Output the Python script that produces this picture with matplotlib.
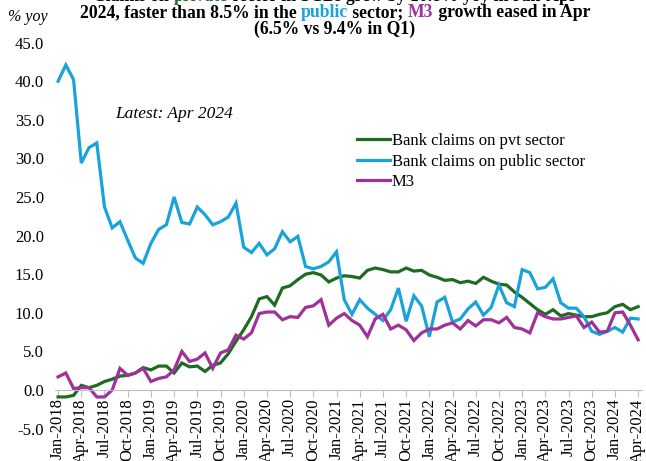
# Bank claims on private / public sector and M3, % yoy
import matplotlib
matplotlib.use('Agg')
import matplotlib.pyplot as plt
import numpy as np
import pandas as pd

plt.rcParams['font.family'] = ['Liberation Serif', 'DejaVu Serif']

# monthly data, Jan-2018 .. Apr-2024
months = pd.date_range('2018-01-01', '2024-04-01', freq='MS')

pvt = [-0.9, -0.9, -0.7, 0.6, 0.3, 0.6, 1.1, 1.4, 1.8, 1.9, 2.2, 2.9,
       2.6, 3.1, 3.1, 2.2, 3.5, 3.0, 3.1, 2.4, 3.2, 3.5, 4.7, 6.3,
       7.8, 9.5, 11.8, 12.1, 11.0, 13.2, 13.5, 14.3, 15.0, 15.2, 14.9, 14.0,
       14.5, 14.8, 14.7, 14.5, 15.5, 15.8, 15.6, 15.3, 15.3, 15.8, 15.4, 15.5,
       14.9, 14.6, 14.2, 14.3, 13.9, 14.1, 13.8, 14.6, 14.1, 13.7, 13.6, 12.7,
       12.0, 11.2, 10.4, 9.8, 10.4, 9.6, 9.9, 9.7, 9.5, 9.5, 9.8, 10.0,
       10.8, 11.1, 10.4, 10.8]

public = [40.0, 42.1, 40.2, 29.4, 31.4, 32.0, 23.7, 21.0, 21.8, 19.4, 17.1, 16.4,
          19.0, 20.8, 21.4, 25.0, 21.7, 21.5, 23.7, 22.7, 21.4, 21.8, 22.4, 24.2,
          18.5, 17.8, 19.0, 17.5, 18.3, 20.5, 19.2, 19.9, 16.0, 15.7, 16.0, 16.6,
          17.9, 11.7, 9.8, 11.7, 10.6, 9.8, 9.0, 10.4, 13.2, 8.9, 12.2, 10.9,
          6.9, 11.4, 12.0, 8.8, 9.2, 10.5, 11.4, 9.7, 10.7, 13.6, 11.3, 10.8,
          15.6, 15.2, 13.1, 13.3, 14.4, 11.3, 10.6, 10.6, 9.5, 7.6, 7.2, 7.6,
          8.1, 7.5, 9.3, 9.2]

m3 = [1.7, 2.2, 0.2, 0.3, 0.3, -0.9, -0.9, 0.0, 2.8, 1.9, 2.2, 2.8,
      1.1, 1.5, 1.7, 2.6, 5.0, 3.7, 4.0, 4.8, 2.8, 4.8, 5.2, 7.1,
      6.6, 7.4, 9.9, 10.1, 10.1, 9.1, 9.5, 9.4, 10.7, 10.9, 11.7, 8.4,
      9.3, 9.9, 9.0, 8.4, 6.9, 9.2, 9.8, 7.9, 8.4, 7.8, 6.4, 7.4,
      7.9, 7.9, 8.4, 8.7, 7.9, 9.0, 8.3, 9.1, 9.1, 8.7, 9.4, 8.1,
      7.9, 7.4, 10.0, 9.5, 9.2, 9.2, 9.4, 9.6, 8.1, 8.8, 7.5, 7.6,
      10.0, 10.1, 8.4, 6.5]

labels = ['Bank claims on pvt sector', 'Bank claims on public sector', 'M3']
colors = ['#1E6B22', '#1AA3DB', '#A0309A']

x = np.arange(len(months))

fig = plt.figure(figsize=(6.46, 4.61), dpi=100)
ax = fig.add_axes([55 / 646, 1 - 428.6 / 461, (642 - 55) / 646, (428.6 - 42.6) / 461])

for s, lab, c in zip([pvt, public, m3], labels, colors):
    ax.plot(x, s, color=c, lw=2.3, label=lab, solid_joinstyle='miter')

ax.set_xlim(-0.4, 75.5)
ax.set_ylim(-5, 45)
ax.set_yticks(np.arange(-5, 46, 5))
ax.set_yticklabels(['%.1f' % v for v in np.arange(-5, 46, 5)], fontsize=12)

# x axis crosses at 0
for sp in ['top', 'right', 'left']:
    ax.spines[sp].set_visible(False)
ax.spines['bottom'].set_position(('data', 0))
ax.spines['bottom'].set_color('#BFBFBF')
ax.tick_params(axis='y', length=0, pad=8)
tick_pos = x[::3]
ax.set_xticks(tick_pos)
ax.set_xticklabels(months[::3].strftime('%b-%Y'), rotation=90, fontsize=12)
ax.tick_params(axis='x', length=5, color='#BFBFBF', pad=1)

ax.legend(loc='upper left', bbox_to_anchor=(357 / 646, 1 - 133 / 461),
          bbox_transform=fig.transFigure, frameon=False, fontsize=12,
          handlelength=2.0, handletextpad=0.1, labelspacing=0.28,
          borderpad=0, borderaxespad=0)

fig.text(0.012, 1 - 21 / 461, '% yoy', fontsize=11.5, style='italic')
fig.text(115 / 646, 1 - 118 / 461, 'Latest: Apr 2024', fontsize=12.5, style='italic')

# title with coloured words, centred line by line
def colored_line(y, parts, xc=335 / 646, size=12.7):
    texts = [fig.text(0, y, s, color=c, fontsize=size, fontweight='bold',
                      ha='left', va='baseline') for s, c in parts]
    r = fig.canvas.get_renderer()
    widths = [t.get_window_extent(r).width for t in texts]
    xp = xc * fig.bbox.width - sum(widths) / 2
    for t, w in zip(texts, widths):
        t.set_x(xp / fig.bbox.width)
        xp += w

colored_line(1 - 1 / 461, [('Claims on ', 'black'), ('private', colors[0]),
                           (' sector in SCBs grew by 10.8% yoy in Jan-Apr', 'black')])
colored_line(1 - 17 / 461, [('2024, faster than 8.5% in the ', 'black'), ('public', colors[1]),
                            (' sector; ', 'black'), ('M3', colors[2]),
                            (' growth eased in Apr', 'black')])
colored_line(1 - 34 / 461, [('(6.5% vs 9.4% in Q1)', 'black')])

fig.savefig('out.png', dpi=100)
